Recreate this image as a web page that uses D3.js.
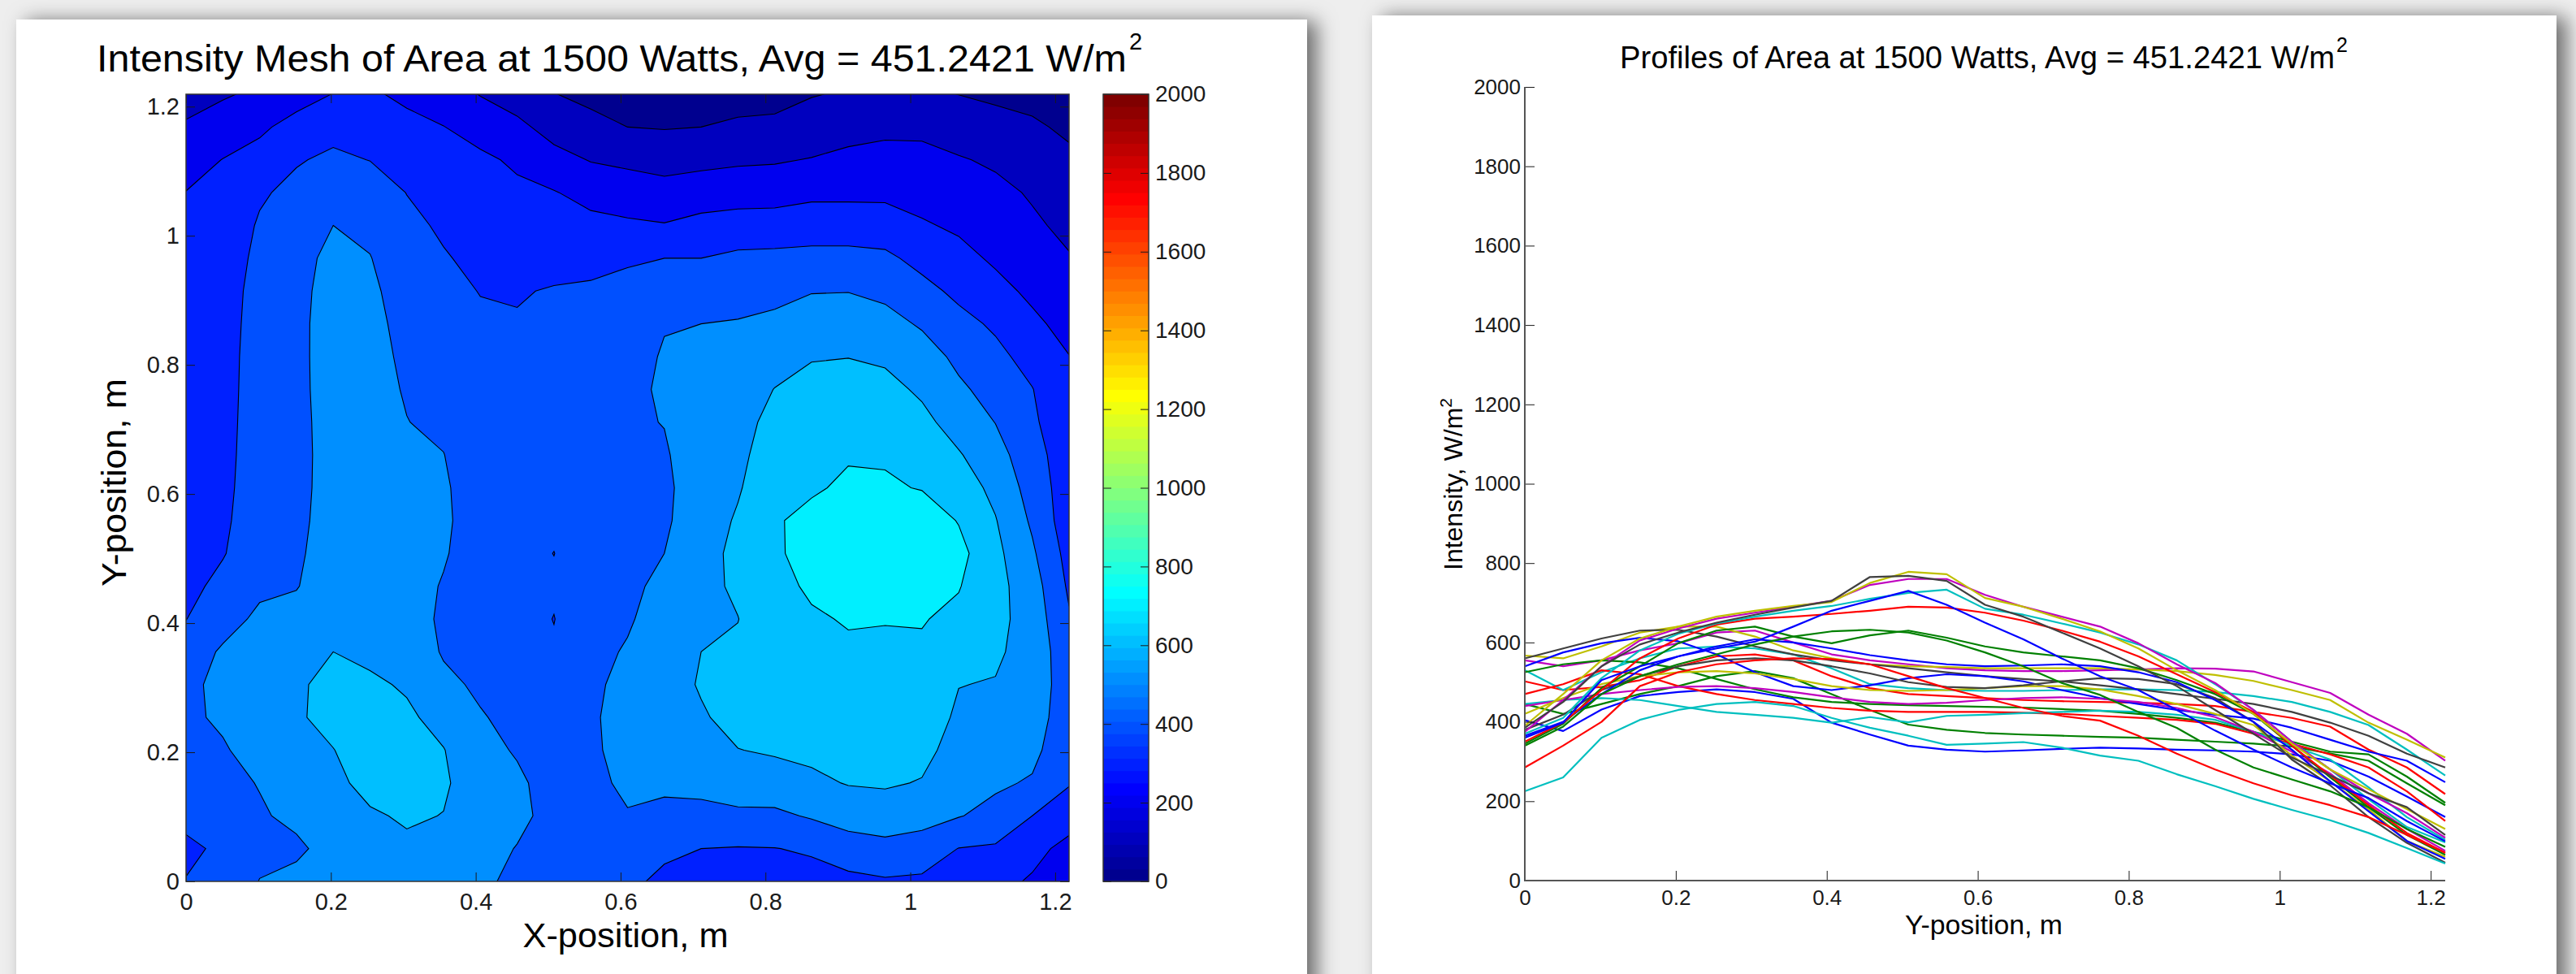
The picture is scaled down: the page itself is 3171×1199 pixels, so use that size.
<!DOCTYPE html>
<html>
<head>
<meta charset="utf-8">
<script src="https://cdn.jsdelivr.net/npm/d3@7"></script>
<style>
  body { margin: 0; background: #eeeeee; }
  svg { display: block; font-family: "Liberation Sans", Arial, sans-serif; }
</style>
</head>
<body>
<div id="chart"></div>
<script>
// grid positions (m), same for X and Y
var gridPos = [0, 0.0508, 0.1016, 0.1524, 0.2032, 0.254, 0.3048, 0.3556, 0.4064, 0.4572, 0.508, 0.5588,
  0.6096, 0.6604, 0.7112, 0.762, 0.8128, 0.8636, 0.9144, 0.9652, 1.016, 1.0668, 1.1176, 1.1684, 1.2192];

// intensity (W/m2) along Y for each X column of the mesh
var colX00 = [404,377,431,465,475,482,475,458,398,368,340,330,325,328,332,335,333,330,328,325,318,302,262,212,160];
var colX01 = [445,420,445,470,490,515,528,510,470,430,393,380,372,368,365,362,360,355,350,345,338,320,302,245,190];
var colX02 = [502,480,488,505,540,565,570,555,515,485,470,465,460,455,452,450,448,445,440,425,410,388,330,285,218];
var colX03 = [530,480,525,560,585,590,585,570,535,495,485,480,478,478,480,482,482,480,475,465,450,425,392,330,265];
var colX04 = [555,540,555,580,598,625,630,600,570,555,545,535,530,528,528,530,532,535,534,527,500,473,418,370,302];
var colX05 = [567,560,590,625,640,640,615,580,560,545,540,538,535,535,535,535,532,528,518,503,480,455,398,355,310];
var colX06 = [560,585,610,630,632,615,590,570,555,545,535,525,515,508,502,492,482,470,458,445,425,398,365,320,285];
var colX07 = [540,575,598,612,603,570,525,490,480,492,510,520,515,502,480,460,445,430,418,408,385,355,325,302,248];
var colX08 = [525,545,555,550,535,508,482,462,450,445,442,440,438,436,432,428,420,410,398,375,350,325,318,262,196];
var colX09 = [470,495,530,520,490,470,455,445,435,428,425,425,425,423,420,415,410,405,395,370,345,318,285,225,150];
var colX10 = [445,455,460,455,440,425,418,410,398,412,399,415,418,422,425,428,425,418,405,375,340,305,235,160,103];
var colX11 = [440,455,470,480,488,490,485,475,462,450,445,448,455,460,462,458,450,435,412,375,325,270,195,130,75];
var colX12 = [420,460,495,515,525,528,522,508,490,480,478,480,485,490,490,482,465,445,420,392,315,250,180,100,60];
var colX13 = [380,418,480,515,540,555,560,555,540,522,500,488,485,492,502,510,508,495,460,400,305,240,160,95,45];
var colX14 = [365,400,470,530,565,590,608,600,585,568,555,545,540,542,545,540,525,500,455,400,330,250,175,100,55];
var colX15 = [345,395,485,540,598,630,640,615,598,618,630,612,590,575,565,555,535,505,470,420,340,260,185,115,65];
var colX16 = [350,398,480,560,610,645,660,665,672,680,690,688,675,655,630,602,565,520,475,425,340,265,190,120,70];
var colX17 = [370,410,510,580,622,648,665,680,692,710,725,733,685,670,648,625,595,555,495,430,350,280,205,135,96];
var colX18 = [375,455,540,605,635,660,675,690,705,745,760,760,720,690,665,640,598,545,498,430,350,280,220,170,108];
var colX19 = [390,470,555,610,640,665,680,692,702,750,778,772,712,690,660,628,585,530,480,420,345,280,230,180,130];
var colX20 = [385,450,540,595,625,650,670,688,705,765,768,755,695,665,625,585,540,490,430,370,310,265,220,185,115];
var colX21 = [360,398,505,540,565,585,602,640,680,705,730,695,650,608,560,515,480,430,378,330,285,245,208,150,99];
var colX22 = [340,388,470,515,545,570,595,615,628,632,625,605,575,540,498,468,425,385,330,285,255,225,185,130,85];
var colX23 = [285,340,400,490,525,545,555,560,558,545,515,485,460,435,415,403,365,320,280,245,215,190,160,115,70];
var colX24 = [225,260,360,405,430,445,450,440,410,385,365,342,345,349,335,315,302,268,238,206,178,152,120,82,43];

var profiles = [colX00, colX01, colX02, colX03, colX04, colX05, colX06, colX07, colX08, colX09, colX10,
  colX11, colX12, colX13, colX14, colX15, colX16, colX17, colX18, colX19, colX20, colX21, colX22, colX23, colX24];

var contourLevels = [0, 100, 200, 300, 400, 500, 600, 700, 800, 900, 1000, 1100, 1200, 1300, 1400, 1500,
  1600, 1700, 1800, 1900, 2000];
var posTicks = [0, 0.2, 0.4, 0.6, 0.8, 1, 1.2];
var intensityTicks = [0, 200, 400, 600, 800, 1000, 1200, 1400, 1600, 1800, 2000];
var lineColors = ["#0000ff", "#008000", "#ff0000", "#00bfbf", "#bf00bf", "#bfbf00", "#404040"];

var leftTitle = "Intensity Mesh of Area at 1500 Watts, Avg = 451.2421 W/m";
var rightTitle = "Profiles of Area at 1500 Watts, Avg = 451.2421 W/m";

var svgWidth = 3171;
var svgHeight = 1199;

var svg = d3.select("#chart")
  .append("svg")
  .attr("width", svgWidth)
  .attr("height", svgHeight);

svg.append("rect")
  .attr("width", svgWidth)
  .attr("height", svgHeight)
  .attr("fill", "#eeeeee");

var defs = svg.append("defs");
var shadow = defs.append("filter")
  .attr("id", "shadow")
  .attr("x", "-10%").attr("y", "-10%")
  .attr("width", "120%").attr("height", "120%");
shadow.append("feDropShadow")
  .attr("dx", 12).attr("dy", 2)
  .attr("stdDeviation", 12)
  .attr("flood-color", "#000")
  .attr("flood-opacity", 0.55);

// white panels with shadows
svg.append("rect")
  .attr("x", 20).attr("y", 24)
  .attr("width", 1589).attr("height", 1220)
  .attr("fill", "#fff")
  .attr("filter", "url(#shadow)");
svg.append("rect")
  .attr("x", 1689).attr("y", 19)
  .attr("width", 1458).attr("height", 1220)
  .attr("fill", "#fff")
  .attr("filter", "url(#shadow)");

// MATLAB jet(64) colour for a value on [0, 2000]
function jetIndex(v) {
  return Math.min(64, Math.floor(v / 2000 * 64 + 1e-9) + 1);
}
function jet(k) {
  var r = k <= 24 ? 0 : k <= 40 ? (k - 24) / 16 : k <= 56 ? 1 : (72 - k) / 16;
  var g = k <= 8 ? 0 : k <= 24 ? (k - 8) / 16 : k <= 40 ? 1 : k <= 55 ? (56 - k) / 16 : 0;
  var b = k <= 8 ? (k + 8) / 16 : k <= 24 ? 1 : k <= 39 ? (40 - k) / 16 : 0;
  return d3.rgb(r * 255, g * 255, b * 255).toString();
}

function styleTicks(g, size) {
  g.attr("font-family", null)
    .attr("font-size", size)
    .attr("color", "#1a1a1a");
  g.select(".domain").remove();
}

// plain MATLAB-like tick text: 0, 0.2, 1, 2000
var fmt = d => String(d);

// ---------------- left: filled contour ----------------
var cm = { left: 229, right: 1316, top: 116, bottom: 1085 };
var n = gridPos.length;

var xLinear = d3.scaleLinear().domain([0, gridPos[n - 1]]).range([cm.left, cm.right]);
var yLinear = d3.scaleLinear().domain([0, gridPos[n - 1]]).range([cm.bottom, cm.top]);
var idxToPos = d3.scaleLinear().domain([0, n - 1]).range([gridPos[0], gridPos[n - 1]]);

var values = new Array(n * n);
profiles.forEach(function(col, i) {
  col.forEach(function(v, j) { values[j * n + i] = v; });
});

var contours = d3.contours()
  .size([n, n])
  .thresholds(contourLevels)(values);

var proj = d3.geoTransform({
  point: function(x, y) {
    this.stream.point(xLinear(idxToPos(x - 0.5)), yLinear(idxToPos(y - 0.5)));
  }
});
var path = d3.geoPath(proj);

defs.append("clipPath").attr("id", "meshClip")
  .append("rect")
  .attr("x", cm.left).attr("y", cm.top)
  .attr("width", cm.right - cm.left).attr("height", cm.bottom - cm.top);

var meshGroup = svg.append("g").attr("clip-path", "url(#meshClip)");
meshGroup.selectAll("path")
  .data(contours)
  .enter()
  .append("path")
  .attr("d", path)
  .attr("fill", d => jet(jetIndex(d.value)))
  .attr("fill-rule", "evenodd")
  .attr("stroke", "#000")
  .attr("stroke-width", 1.1);

// axes with inward ticks on all four sides
var bottomAxis = svg.append("g")
  .attr("transform", `translate(0, ${cm.bottom})`)
  .call(d3.axisBottom(xLinear).tickValues(posTicks).tickFormat(fmt).tickSizeInner(-11).tickSizeOuter(0).tickPadding(14));
styleTicks(bottomAxis, 29);
var leftAxis = svg.append("g")
  .attr("transform", `translate(${cm.left}, 0)`)
  .call(d3.axisLeft(yLinear).tickValues(posTicks).tickFormat(fmt).tickSizeInner(-11).tickSizeOuter(0).tickPadding(8));
styleTicks(leftAxis, 29);
var topAxis = svg.append("g")
  .attr("transform", `translate(0, ${cm.top})`)
  .call(d3.axisTop(xLinear).tickValues(posTicks).tickFormat("").tickSizeInner(-11).tickSizeOuter(0));
styleTicks(topAxis, 29);
var rightAxis = svg.append("g")
  .attr("transform", `translate(${cm.right}, 0)`)
  .call(d3.axisRight(yLinear).tickValues(posTicks).tickFormat("").tickSizeInner(-11).tickSizeOuter(0));
styleTicks(rightAxis, 29);

svg.append("rect")
  .attr("x", cm.left).attr("y", cm.top)
  .attr("width", cm.right - cm.left).attr("height", cm.bottom - cm.top)
  .attr("fill", "none")
  .attr("stroke", "#333")
  .attr("stroke-width", 1.5);

// colorbar
var cb = { left: 1358, right: 1414 };
var cbScale = d3.scaleLinear().domain([0, 2000]).range([cm.bottom, cm.top]);
var cbBands = d3.range(1, 65);
svg.append("g").selectAll("rect")
  .data(cbBands)
  .enter()
  .append("rect")
  .attr("x", cb.left)
  .attr("width", cb.right - cb.left)
  .attr("y", k => cbScale(k * 31.25) - 0.5)
  .attr("height", k => cbScale((k - 1) * 31.25) - cbScale(k * 31.25) + 1)
  .attr("fill", k => jet(k));

var cbAxisR = svg.append("g")
  .attr("transform", `translate(${cb.right}, 0)`)
  .call(d3.axisRight(cbScale).tickValues(intensityTicks).tickFormat(fmt).tickSizeInner(-10).tickSizeOuter(0).tickPadding(8));
styleTicks(cbAxisR, 28);
var cbAxisL = svg.append("g")
  .attr("transform", `translate(${cb.left}, 0)`)
  .call(d3.axisLeft(cbScale).tickValues(intensityTicks).tickFormat("").tickSizeInner(-10).tickSizeOuter(0));
styleTicks(cbAxisL, 28);

svg.append("rect")
  .attr("x", cb.left).attr("y", cm.top)
  .attr("width", cb.right - cb.left).attr("height", cm.bottom - cm.top)
  .attr("fill", "none")
  .attr("stroke", "#333")
  .attr("stroke-width", 1.5);

// left titles and labels
svg.append("text")
  .attr("x", 119).attr("y", 88)
  .attr("font-size", 46)
  .attr("textLength", 1268)
  .attr("lengthAdjust", "spacingAndGlyphs")
  .text(leftTitle);
svg.append("text")
  .attr("x", 1390).attr("y", 61)
  .attr("font-size", 29)
  .text("2");

svg.append("text")
  .attr("x", 770).attr("y", 1166)
  .attr("font-size", 42)
  .attr("text-anchor", "middle")
  .attr("textLength", 253)
  .attr("lengthAdjust", "spacingAndGlyphs")
  .text("X-position, m");

svg.append("text")
  .attr("transform", "translate(155, 594) rotate(-90)")
  .attr("font-size", 42)
  .attr("text-anchor", "middle")
  .attr("textLength", 256)
  .attr("lengthAdjust", "spacingAndGlyphs")
  .text("Y-position, m");

// ---------------- right: profiles ----------------
var pm = { left: 1877, right: 3010, top: 107, bottom: 1084 };
var pxScale = d3.scaleLinear().domain([0, gridPos[n - 1]]).range([pm.left, pm.right]);
var pyScale = d3.scaleLinear().domain([0, 2000]).range([pm.bottom, pm.top]);

var profileLine = d3.line()
  .x((d, j) => pxScale(gridPos[j]))
  .y(d => pyScale(d));

svg.append("g").selectAll("path")
  .data(profiles)
  .enter()
  .append("path")
  .attr("d", profileLine)
  .attr("fill", "none")
  .attr("stroke", (d, i) => lineColors[i % lineColors.length])
  .attr("stroke-width", 2.2)
  .attr("stroke-linejoin", "round");

var pBottom = svg.append("g")
  .attr("transform", `translate(0, ${pm.bottom})`)
  .call(d3.axisBottom(pxScale).tickValues(posTicks).tickFormat(fmt).tickSizeInner(-12).tickSizeOuter(0).tickPadding(12));
styleTicks(pBottom, 26);
var pLeft = svg.append("g")
  .attr("transform", `translate(${pm.left}, 0)`)
  .call(d3.axisLeft(pyScale).tickValues(intensityTicks).tickFormat(fmt).tickSizeInner(-12).tickSizeOuter(0).tickPadding(5));
styleTicks(pLeft, 26);

svg.append("path")
  .attr("d", `M${pm.left},${pm.top}V${pm.bottom}H${pm.right}`)
  .attr("fill", "none")
  .attr("stroke", "#555")
  .attr("stroke-width", 2);

svg.append("text")
  .attr("x", 1994).attr("y", 84)
  .attr("font-size", 38)
  .attr("textLength", 880)
  .attr("lengthAdjust", "spacingAndGlyphs")
  .text(rightTitle);
svg.append("text")
  .attr("x", 2876).attr("y", 64)
  .attr("font-size", 25)
  .text("2");

svg.append("text")
  .attr("x", 2442).attr("y", 1150)
  .attr("font-size", 34)
  .attr("text-anchor", "middle")
  .attr("textLength", 194)
  .attr("lengthAdjust", "spacingAndGlyphs")
  .text("Y-position, m");

var yLab = svg.append("text")
  .attr("transform", "translate(1800, 596) rotate(-90)")
  .attr("font-size", 32)
  .attr("text-anchor", "middle");
yLab.append("tspan").text("Intensity, W/m");
yLab.append("tspan").attr("dy", -13).attr("font-size", 21).text("2");
</script>
</body>
</html>
